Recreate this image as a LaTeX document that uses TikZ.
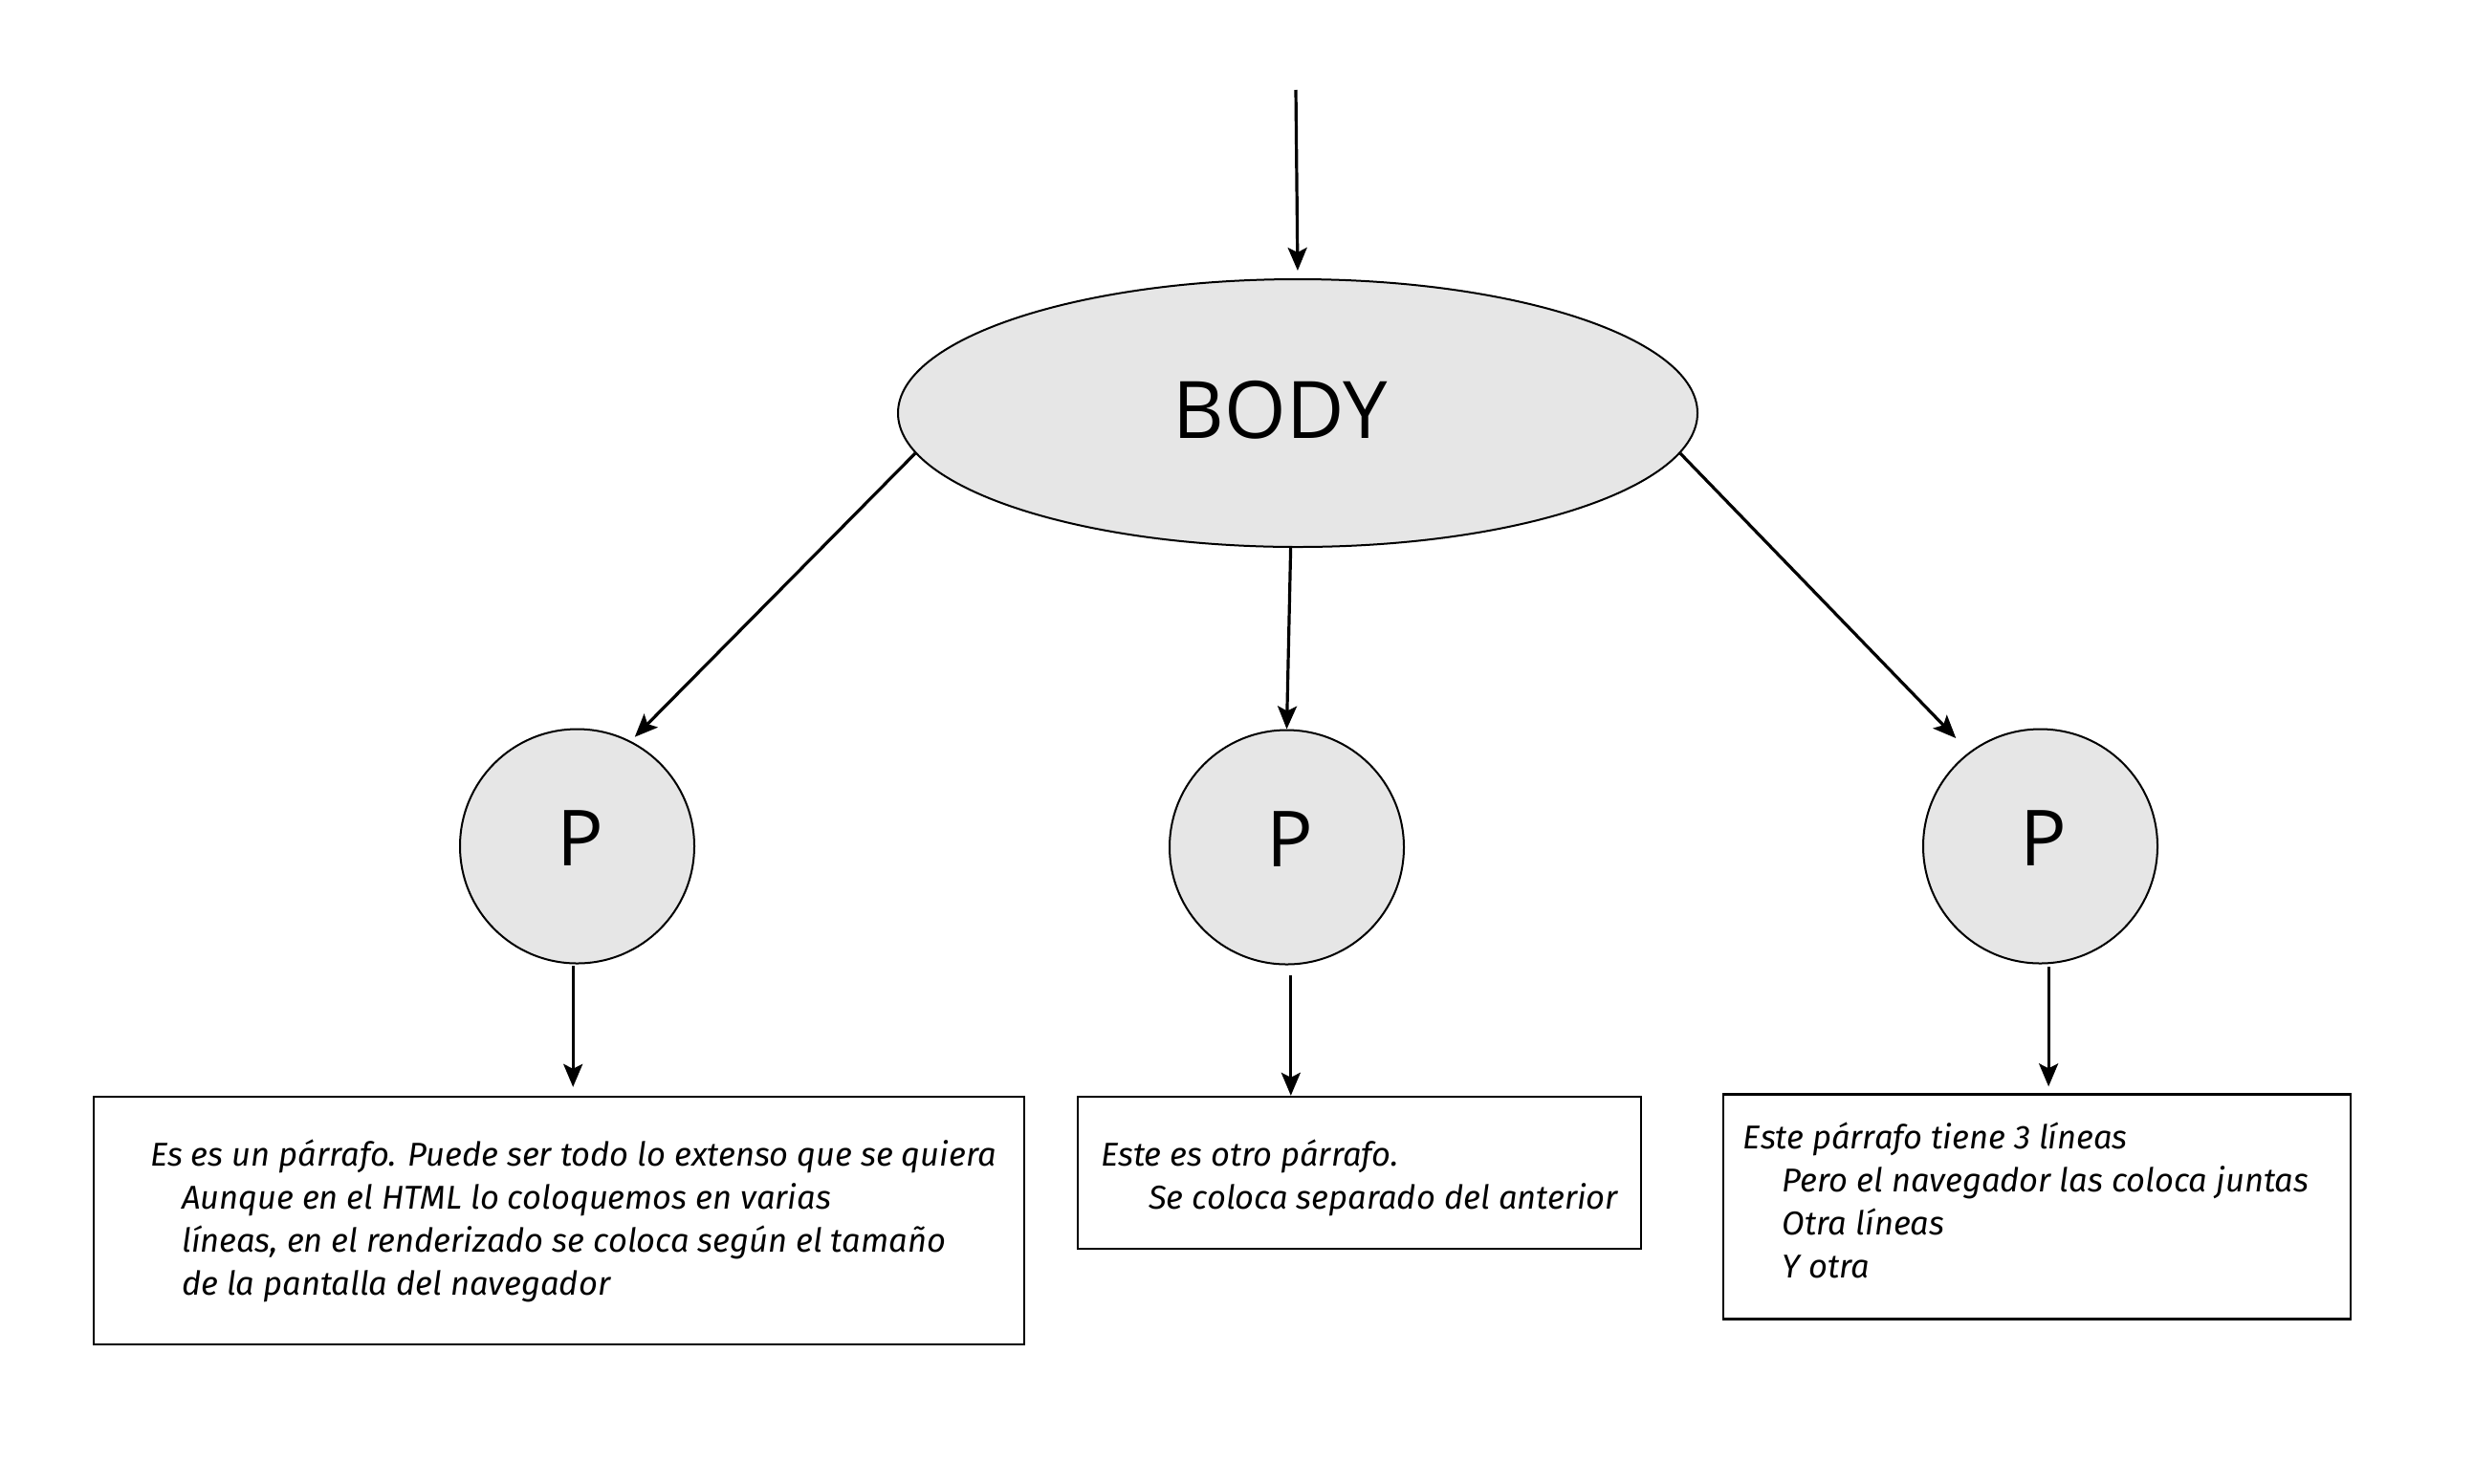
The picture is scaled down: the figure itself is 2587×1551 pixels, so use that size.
\documentclass[tikz,border=0pt]{standalone}
\usepackage{fontspec}
\setmainfont{Open Sans}
\newfontfamily\boxfont{Fira Sans}
\usetikzlibrary{shapes.geometric,arrows.meta}
\definecolor{nodefill}{HTML}{E6E6E6}
\begin{document}
\begin{tikzpicture}[x=1pt,y=-1pt,
  arr/.style={line width=3.2pt,-{Stealth[length=24pt,width=20pt,inset=5pt]}},
  bodyshape/.style={ellipse,draw,line width=2pt,fill=nodefill,minimum width=836pt,minimum height=280pt,inner sep=0pt,text depth=8pt,font=\fontsize{83}{100}\selectfont},
  pnode/.style={circle,draw,line width=2pt,fill=nodefill,minimum size=245pt,inner sep=0pt,text depth=16pt,font=\fontsize{81}{96}\selectfont},
  textbox/.style={rectangle,draw,line width=2.4pt,inner sep=0pt,align=left,font=\boxfont\itshape\fontsize{34.5}{45}\selectfont},
]
\fill[white] (0,0) rectangle (2587,1551);
\useasboundingbox (0,0) rectangle (2587,1551);

\node[bodyshape] (body) at (1357,432) {BODY\kern36pt};
\node[pnode] (p1) at (603.5,885) {\hspace{6pt}P};
\node[pnode] (p2) at (1345.5,886) {\hspace{6pt}P};
\node[pnode] (p3) at (2133.5,885) {\hspace{6pt}P};

\node[textbox,minimum width=973pt,minimum height=259pt] (b1) at (584.5,1276.5)
  {\hspace*{30pt}Es es un párrafo. Puede ser todo lo extenso que se quiera\\
   \hspace*{63pt}Aunque en el HTML lo coloquemos en varias\\
   \hspace*{63pt}líneas, en el renderizado se coloca según el tamaño\\
   \hspace*{63pt}de la pantalla del navegador};
\node[textbox,minimum width=589pt,minimum height=159pt] (b2) at (1421.5,1226.5)
  {\rule{0pt}{39pt}Este es otro párrafo.\\
   \hspace*{50pt}Se coloca separado del anterior};
\node[textbox,minimum width=656pt,minimum height=235pt] (b3) at (2130,1262)
  {Este párrafo tiene 3 líneas\\
   \hspace*{41pt}Pero el navegador las coloca juntas\rule{23pt}{0pt}\\
   \hspace*{41pt}Otra líneas\\
   \hspace*{41pt}Y otra\rule[-14pt]{0pt}{1pt}};

\coordinate (top) at (1355,94);
\draw[arr,shorten >=8pt] (top) -- (body.north);
\draw[arr,shorten >=6pt] (body.186) -- (p1.63);
\draw[arr] (body.267) -- (p2.90);
\draw[arr,shorten >=20pt] (body.354) -- (p3.127);
\draw[arr,shorten <=1.5pt,shorten >=9pt] (p1.268) -- (p1.268 |- b1.north);
\draw[arr,shorten <=11pt] (p2.272) -- (p2.272 |- b2.north);
\draw[arr,shorten <=3pt,shorten >=7pt] (p3.274) -- (p3.274 |- b3.north);
\end{tikzpicture}
\end{document}
